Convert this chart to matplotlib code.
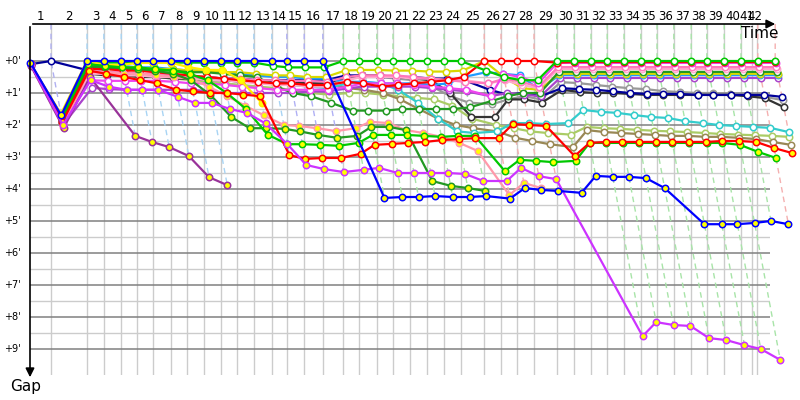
import numpy as np
import matplotlib.pyplot as plt

n = np.nan

# leader's time at the end of each lap (minutes), index 0 = start
LAP_T = [0.0, 3.5, 9.5, 12.3, 15.2, 17.8, 20.5, 23.5, 26.2, 29.0, 31.8, 34.5, 37.3,
         40.3, 42.8, 45.7, 48.8, 52.2, 54.8, 57.8, 60.5, 63.3, 66.2, 69.0, 71.8,
         75.7, 78.5, 81.2, 84.0, 87.8, 90.7, 93.5, 96.2, 99.0, 101.8, 104.5, 107.3,
         110.2, 112.8, 115.7, 118.5, 121.3, 124.2]
# lap lines as drawn on the time axis (the last two are squeezed at the right edge)
LINE_T = LAP_T[:41] + [120.3, 121.2]
LAP_LABELS = [str(k) for k in range(1, 43)]
GAP_LABELS = ["+%d'" % k for k in range(10)]

# gap to the leader (minutes) at each lap, index 0 = start, nan = no reading
blue_gap = [0.05, 1.7, 0, 0, 0, 0, 0, 0, 0, 0, 0, 0, 0, 0, 0, 0, 0, n,
            4.28, 4.25, 4.25, 4.22, 4.25, 4.25, 4.22, 4.3, 3.97, 4.03, 4.06, 4.12,
            3.59, 3.62, 3.62, 3.66, 3.97, n, 5.1, 5.1, 5.1, 5.06, 5.0, 5.1]
violet_gap = [0.1, 2.0, 0.6, 0.8, 0.9, 0.9, 0.9, 1.12, 1.31, 1.31, 1.5, 1.62, 1.95,
              2.6, 3.25, 3.38, 3.47, 3.4, 3.34, 3.5, 3.5, 3.5, 3.5, 3.53, 3.75, 3.75,
              3.34, 3.6, 3.69, n, n, 8.6, 8.16, 8.25, 8.28, 8.66, 8.72, 8.88, 9.0, 9.34]
dpurple_gap = [0.15, 2.1, 0.5, n, 2.34, 2.53, 2.69, 2.97, 3.63, 3.88]
red_y_gap = [0.1, 1.9, 0.3, 0.4, 0.5, 0.6, 0.7, 0.9, 0.95, 1.0, 1.0, 1.05, 1.1,
             2.94, 3.06, 3.03, 3.03, 2.9, 2.62, 2.59, 2.56, 2.53, 2.47, 2.44, 2.41,
             2.41, 1.97, 2.0, 2.03, 2.97, 2.56, 2.53, 2.53, 2.53, 2.53, 2.53, 2.53,
             2.53, 2.5, 2.5, 2.53, 2.72, 2.88]
green_y_gap = [0.1, 1.8, 0.1, 0.15, 0.2, 0.2, 0.25, 0.3, 0.4, 0.6, 1.0, 1.5, 2.3,
               2.6, 2.6, 2.62, 2.65, 2.56, 2.31, 2.31, 2.31, 2.34, 2.37, 2.34, 2.34,
               3.44, 3.09, 3.12, 3.16, 3.12, 2.56, 2.56, 2.56, 2.56, 2.56, 2.56, 2.56,
               2.56, 2.56, 2.62, 2.84, 3.03]
dgreen_y_gap = [0.1, 1.8, 0.15, 0.2, 0.2, 0.25, 0.3, 0.4, 0.6, 1.06, 1.75, 2.1, 2.1,
                2.12, 2.2, 2.31, 2.4, 2.34, 2.06, 2.06, 2.16, 3.75, 3.9, 3.97, 4.06]
pink_y_gap = [0.1, 2.05, 0.3, 0.35, 0.4, 0.4, 0.45, 0.5, 0.55, 0.8, 1.1, 1.4, 1.7,
              2.0, 2.03, 2.1, 2.19, 2.1, 1.9, 1.94, 2.16, 2.25, 2.37, 2.56, 2.81,
              4.19, 3.81, 3.97]
yellow_y_gap = [0.1, 1.65, 0.0, 0.12, 0.12, 0.06, 0.06, 0.06, 0.19, 0.28, 0.28, 0.6, 1.31]
red_w_gap = [0.1, 1.85, 0.25, 0.25, 0.3, 0.3, 0.35, 0.4, 0.45, 0.5, 0.55, 0.6, 0.65,
             0.7, 0.7, 0.75, 0.75, 0.65, 0.7, 0.8, 0.75, 0.7, 0.65, 0.6, 0.5,
             0, 0, 0, 0, 0.05, 0.03, 0.03, 0.03, 0.03, 0.03, 0.03, 0.03, 0.03, 0.03,
             0.03, 0.03, 0.03, 0.03]
green_w_gap = [0.1, 1.75, 0.05, 0.05, 0.05, 0.05, 0.05, 0.05, 0.05, 0.05, 0.05, 0.05,
               0.05, 0.15, 0.2, 0.2, 0.2, 0, 0, 0, 0, 0, 0, 0, 0, 0.3, 0.5, 0.6, 0.6,
               0, 0, 0, 0, 0, 0, 0, 0, 0, 0, 0, 0, 0, 0]
magenta_gap = [0.1, 1.95, 0.6, 0.62, 0.62, 0.62, 0.62, 0.65, 0.7, 0.7, 0.75, 0.8, 0.85,
               0.9, 0.9, 0.9, 0.9, 0.8, 0.7, 0.7, 0.7, 0.75, 0.8, 0.85, 0.9, 1.1, 0.4,
               0.5, 0.7, 0.06, 0.06, 0.06, 0.06, 0.06, 0.06, 0.06, 0.06, 0.06, 0.06,
               0.06, 0.06, 0.06, 0.06]
pink_w_gap = [0.1, 1.9, 0.3, 0.35, 0.35, 0.4, 0.4, 0.45, 0.5, 0.5, 0.55, 0.55, 0.6,
              0.6, 0.62, 0.62, 0.65, 0.5, 0.45, 0.45, 0.45, 0.5, 0.55, 0.6, 0.65, 0.7,
              0.55, 0.65, 0.8, 0.19, 0.19, 0.19, 0.19, 0.19, 0.19, 0.19, 0.19, 0.19,
              0.19, 0.19, 0.19, 0.19, 0.19]
lpink_gap = [0.1, 2.0, 0.4, 0.4, 0.45, 0.45, 0.5, 0.5, 0.55, 0.6, 0.6, 0.65, 0.7,
             0.75, 0.75, 0.8, 0.8, 0.6, 0.5, 0.5, 0.5, 0.55, 0.55, 0.6, 0.6, 0.7, 0.6,
             0.75, 0.85, 0.25, 0.25, 0.25, 0.25, 0.25, 0.25, 0.25, 0.25, 0.25, 0.25,
             0.25, 0.25, 0.25, 0.25]
dgreen_w_gap = [0.1, 1.8, 0.2, 0.25, 0.25, 0.3, 0.3, 0.3, 0.35, 0.35, 0.4, 0.45, 0.5,
                0.8, 1.0, 1.1, 1.3, 1.55, 1.55, 1.55, 1.5, 1.5, 1.5, 1.5, 1.45, 1.25,
                1.1, 1.0, 1.0, 0.34, 0.34, 0.34, 0.34, 0.34, 0.34, 0.34, 0.34, 0.34,
                0.34, 0.34, 0.34, 0.34, 0.34]
yellow_w_gap = [0.1, 1.7, 0.15, 0.2, 0.2, 0.2, 0.25, 0.25, 0.3, 0.3, 0.35, 0.35, 0.4,
                0.45, 0.45, 0.5, 0.5, 0.3, 0.28, 0.28, 0.3, 0.3, 0.33, 0.33, 0.3, 0.0,
                0.5, 0.85, 0.9, 0.4, 0.4, 0.4, 0.4, 0.4, 0.4, 0.4, 0.4, 0.4, 0.4, 0.4,
                0.4, 0.4, 0.4]
lblue_gap = [0.1, 1.7, 0.1, 0.15, 0.15, 0.2, 0.2, 0.25, 0.3, 0.3, 0.35, 0.4, 0.45,
             0.5, 0.5, 0.55, 0.55, 0.65, 0.65, 0.7, 0.7, 0.7, 0.75, 0.7, 0.5, 0.35,
             0.4, 0.45, 0.9, 0.44, 0.44, 0.44, 0.44, 0.44, 0.44, 0.44, 0.44, 0.44,
             0.44, 0.44, 0.44, 0.44, 0.44]
purple_w_gap = [0.1, 2.0, 0.84, 0.88, 0.9, 0.9, 0.9, 0.9, 0.9, 0.95, 1.0, 1.0, 1.0,
                1.0, 1.0, 0.95, 0.95, 0.85, 0.8, 0.8, 0.8, 0.8, 0.85, 0.9, 0.95, 1.1,
                1.0, 1.05, 1.1, 0.53, 0.53, 0.53, 0.53, 0.53, 0.53, 0.53, 0.53, 0.53,
                0.53, 0.53, 0.53, 0.53, 0.53]
gray_gap = [0.1, 1.9, 0.35, 0.4, 0.45, 0.45, 0.5, 0.5, 0.55, 0.55, 0.6, 0.6, 0.65,
            0.7, 0.7, 0.75, 0.8, 0.55, 0.5, 0.5, 0.55, 0.6, 0.8, 1.1, 1.3, 1.35, 1.2,
            1.1, 1.2, 0.66, 0.69, 0.75, 0.8, 0.85, 0.88, 0.94, 0.97, 1.0, 1.0, 1.03,
            1.06, 1.12, 1.22]
navy_gap = [0.1, 0.0, 0.3, 0.35, 0.4, 0.4, 0.45, 0.45, 0.5, 0.5, 0.55, 0.55, 0.6,
            0.6, 0.6, 0.6, 0.6, 0.45, 0.45, 0.5, 0.5, 0.5, 0.55, 0.55, 0.6, 0.9, 1.05,
            1.0, 1.1, 0.85, 0.88, 0.9, 0.95, 1.0, 1.03, 1.03, 1.03, 1.06, 1.06, 1.06,
            1.06, 1.06, 1.12]
black_gap = [0.1, 1.9, 0.4, 0.45, 0.45, 0.5, 0.5, 0.55, 0.55, 0.6, 0.6, 0.65, 0.65,
             0.65, 0.65, 0.7, 0.7, 0.5, 0.45, 0.45, 0.5, 0.55, 0.6, 1.0, 1.75, 1.75,
             1.2, 1.2, 1.3, 0.9, 0.97, 1.0, 1.0, 1.03, 1.06, 1.06, 1.06, 1.06, 1.06,
             1.06, 1.1, 1.16, 1.44]
cyan_gap = [0.1, 1.9, 0.3, 0.35, 0.4, 0.4, 0.45, 0.5, 0.5, 0.55, 0.55, 0.6, 0.65,
            0.7, 0.75, 0.8, 0.85, 0.7, 0.65, 0.7, 0.9, 1.3, 1.8, 2.2, 2.25, 2.2, 1.94,
            1.94, 1.97, 1.94, 1.53, 1.59, 1.62, 1.69, 1.75, 1.78, 1.88, 1.94, 2.0,
            2.03, 2.06, 2.09, 2.22]
ygreen_gap = [0.1, 1.9, 0.35, 0.4, 0.45, 0.5, 0.5, 0.55, 0.6, 0.65, 0.7, 0.75, 0.8,
              0.85, 0.9, 1.0, 1.05, 1.0, 1.0, 1.05, 1.1, 1.15, 1.2, 1.4, 1.8, 2.0, 2.1,
              2.2, 2.25, 2.3, 2.06, 2.1, 2.12, 2.15, 2.18, 2.2, 2.22, 2.25, 2.28, 2.3,
              2.32, 2.34, 2.37]
olive_gap = [0.1, 1.9, 0.3, 0.35, 0.4, 0.45, 0.5, 0.5, 0.55, 0.55, 0.6, 0.6, 0.65,
             0.7, 0.7, 0.7, 0.7, 0.85, 0.9, 1.0, 1.2, 1.5, 1.8, 2.0, 2.1, 2.2, 2.4,
             2.5, 2.6, 2.69, 2.16, 2.22, 2.25, 2.28, 2.31, 2.34, 2.34, 2.37, 2.37,
             2.4, 2.44, 2.53, 2.62]

YEL, WHT = '#ffff00', '#ffffff'
RIDERS = [
    ('#aacc66', WHT, ygreen_gap),
    ('#998855', WHT, olive_gap),
    ('#33cccc', WHT, cyan_gap),
    ('#999999', WHT, gray_gap),
    ('#333333', WHT, black_gap),
    ('#000099', WHT, navy_gap),
    ('#aa44cc', WHT, purple_w_gap),
    ('#1e9cff', WHT, lblue_gap),
    ('#d8d800', WHT, yellow_w_gap),
    ('#229922', WHT, dgreen_w_gap),
    ('#ffaacc', WHT, lpink_gap),
    ('#ff77bb', WHT, pink_w_gap),
    ('#ee44ee', WHT, magenta_gap),
    ('#ff0000', WHT, red_w_gap),
    ('#00c800', WHT, green_w_gap),
    ('#ffee00', YEL, yellow_y_gap),
    ('#ff99aa', YEL, pink_y_gap),
    ('#229922', YEL, dgreen_y_gap),
    ('#00c800', YEL, green_y_gap),
    ('#ff0000', YEL, red_y_gap),
    ('#993399', YEL, dpurple_gap),
    ('#cc33ff', YEL, violet_gap),
    ('#0000ff', YEL, blue_gap),
]

# colour of the dashed "same lap" line for laps 1..42
DASH_COLORS = (['#b0b0f0'] + ['#a8d4f4'] * 12 + ['#b0b0f4'] * 3 + ['#a8e4a8'] * 8
               + ['#f4b0b0'] * 4 + ['#a8e4a8'] * 12 + ['#f4b0b0'] * 2)

X_MAX = 740 / 6
Y_TOP, Y_BOT = -37 / 32, 314 / 32

fig = plt.figure(figsize=(8, 4), dpi=100)
ax = fig.add_axes([30 / 800, 25 / 400, 740 / 800, 351 / 400])
ax.set_xlim(0, X_MAX)
ax.set_ylim(Y_BOT, Y_TOP)
ax.axis('off')

# grid
for g in np.arange(0.5, 9, 1.0):
    ax.plot([0, X_MAX], [g, g], color='#cccccc', lw=1, zorder=0)
for t in LINE_T[1:]:
    ax.plot([t, t], [Y_TOP, Y_BOT], color='#cccccc', lw=1, zorder=0)
for g in range(10):
    ax.plot([0, X_MAX], [g, g], color='#808080', lw=1.1, zorder=0.5)

# dashed lines joining every rider's crossing of the same lap
for k in range(1, 43):
    gaps = sorted(r[2][k] for r in RIDERS if k < len(r[2]) and not np.isnan(r[2][k]))
    xs = [LAP_T[k], LAP_T[k]] + [LAP_T[k] + g for g in gaps]
    ys = [Y_TOP, 0] + gaps
    ax.plot(xs, ys, color=DASH_COLORS[k - 1], lw=1, ls=(0, (4, 3)), zorder=1,
            clip_on=False)

# riders
for i, (col, face, gaps) in enumerate(RIDERS):
    g = np.array(gaps, dtype=float)
    t = np.array(LAP_T[:len(g)])
    ok = ~np.isnan(g)
    ax.plot(t[ok] + g[ok], g[ok], color=col, lw=1.6, marker='o', ms=4.6,
            mfc=face, mec=col, mew=1.1, zorder=2 + i * 0.01, clip_on=False)

# axes with arrows
ax.annotate('', xy=(778 / 800, 1 - 24 / 400), xytext=(30 / 800, 1 - 24 / 400),
            xycoords='figure fraction',
            arrowprops=dict(arrowstyle='-|>', color='black', lw=1.2, mutation_scale=13))
ax.annotate('', xy=(30 / 800, 1 - 380 / 400), xytext=(30 / 800, 1 - 24 / 400),
            xycoords='figure fraction',
            arrowprops=dict(arrowstyle='-|>', color='black', lw=1.2, mutation_scale=13))

for k, lab in enumerate(LAP_LABELS, start=1):
    ax.text((LINE_T[k - 1] + LINE_T[k]) / 2, -44 / 32, lab, ha='center', va='center',
            fontsize=8.5, clip_on=False)
for k, lab in enumerate(GAP_LABELS):
    ax.text(-1.5, k, lab, ha='right', va='center', fontsize=7, clip_on=False)

ax.text(121.7, -27 / 32, 'Time', ha='center', va='center', fontsize=11)
ax.text(-0.8, 325 / 32, 'Gap', ha='center', va='center', fontsize=11, clip_on=False)

fig.savefig('out.png', dpi=100)
